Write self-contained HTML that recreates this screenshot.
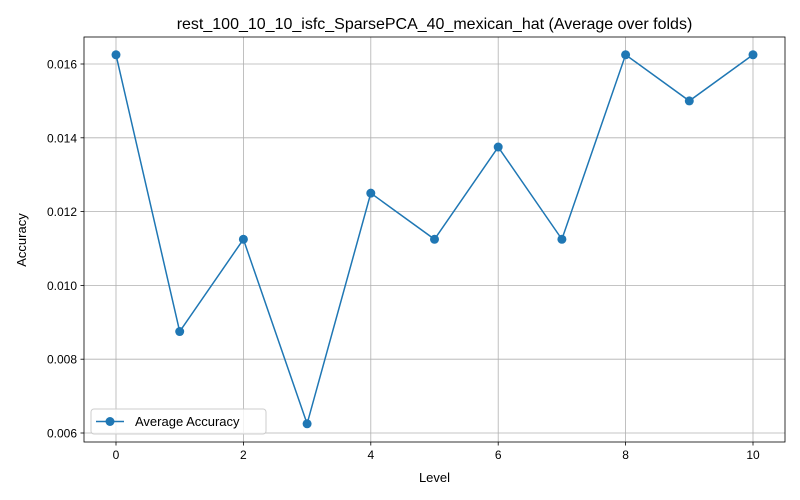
<!DOCTYPE html>
<html><head><meta charset="utf-8">
<style>
html,body{margin:0;padding:0;background:#fff;}
svg{display:block;font-family:"Liberation Sans","DejaVu Sans",sans-serif;}
</style></head>
<body>
<svg id="chart" width="800" height="500" viewBox="0 0 800 500">
<rect width="800" height="500" fill="#fff"/>
<g id="grid"></g>
<g id="axes"></g>
<g id="series"></g>
<text x="434.5" y="29" text-anchor="middle" font-size="16" fill="#000">rest_100_10_10_isfc_SparsePCA_40_mexican_hat (Average over folds)</text>
<text x="434.5" y="482" text-anchor="middle" font-size="13" fill="#000">Level</text>
<text x="26" y="240" text-anchor="middle" font-size="13" fill="#000" transform="rotate(-90 26 240)">Accuracy</text>
<g>
<rect x="91" y="409" width="175" height="25" rx="3" fill="#fff" fill-opacity="0.8" stroke="#ccc"/>
<line x1="96" y1="421.5" x2="124" y2="421.5" stroke="#1f77b4" stroke-width="1.5"/>
<circle cx="110" cy="421.5" r="4.5" fill="#1f77b4"/>
<text x="135" y="426" font-size="13" fill="#000">Average Accuracy</text>
</g>
</svg>
<script>
const levels = [0,1,2,3,4,5,6,7,8,9,10];
const accuracy = [0.01625,0.00875,0.01125,0.00625,0.0125,0.01125,0.01375,0.01125,0.01625,0.015,0.01625];
const xTicks = [0,2,4,6,8,10];
const yTicks = [0.006,0.008,0.010,0.012,0.014,0.016];
const yTickLabels = ["0.006","0.008","0.010","0.012","0.014","0.016"];

const L=84,R=785,T=37,B=442;
function xs(v){return 116+(v-0)*(753-116)/10;}
function ys(v){return 433+(v-0.006)*(64-433)/0.010;}
const NS="http://www.w3.org/2000/svg";
function mk(tag,attrs,parent){const e=document.createElementNS(NS,tag);for(const k in attrs)e.setAttribute(k,attrs[k]);parent.appendChild(e);return e;}
const grid=document.getElementById('grid'),axes=document.getElementById('axes'),series=document.getElementById('series');

xTicks.forEach(t=>{
  const x=xs(t);
  const g=mk('line',{x1:x,y1:T,x2:x,y2:B,stroke:'#b0b0b0','stroke-width':0.8},grid);
  
  
  const tk=mk('line',{x1:x,y1:B,x2:x,y2:B+3.5,stroke:'#000','stroke-width':0.8},axes);
  
  
  const tx=mk('text',{x:x,y:B+17,'text-anchor':'middle','font-size':12,fill:'#000'},axes);
  tx.textContent=String(t);
  
  
});
yTicks.forEach((t,i)=>{
  const y=ys(t);
  const g=mk('line',{x1:L,y1:y,x2:R,y2:y,stroke:'#b0b0b0','stroke-width':0.8},grid);
  
  
  const tk=mk('line',{x1:L-3.5,y1:y,x2:L,y2:y,stroke:'#000','stroke-width':0.8},axes);
  
  
  const tx=mk('text',{x:L-7,y:y+4.5,'text-anchor':'end','font-size':12,fill:'#000'},axes);
  tx.textContent=yTickLabels[i];
  
  
});
const frame=mk('rect',{x:L,y:T,width:R-L,height:B-T,fill:'none',stroke:'#000','stroke-width':0.8},axes);



const pts=levels.map((l,i)=>xs(l)+','+ys(accuracy[i])).join(' ');
const line=mk('polyline',{points:pts,fill:'none',stroke:'#1f77b4','stroke-width':1.5},series);


levels.forEach((l,i)=>{
  const c=mk('circle',{cx:xs(l),cy:ys(accuracy[i]),r:4.5,fill:'#1f77b4'},series);
  
  
});
</script>
</body></html>
